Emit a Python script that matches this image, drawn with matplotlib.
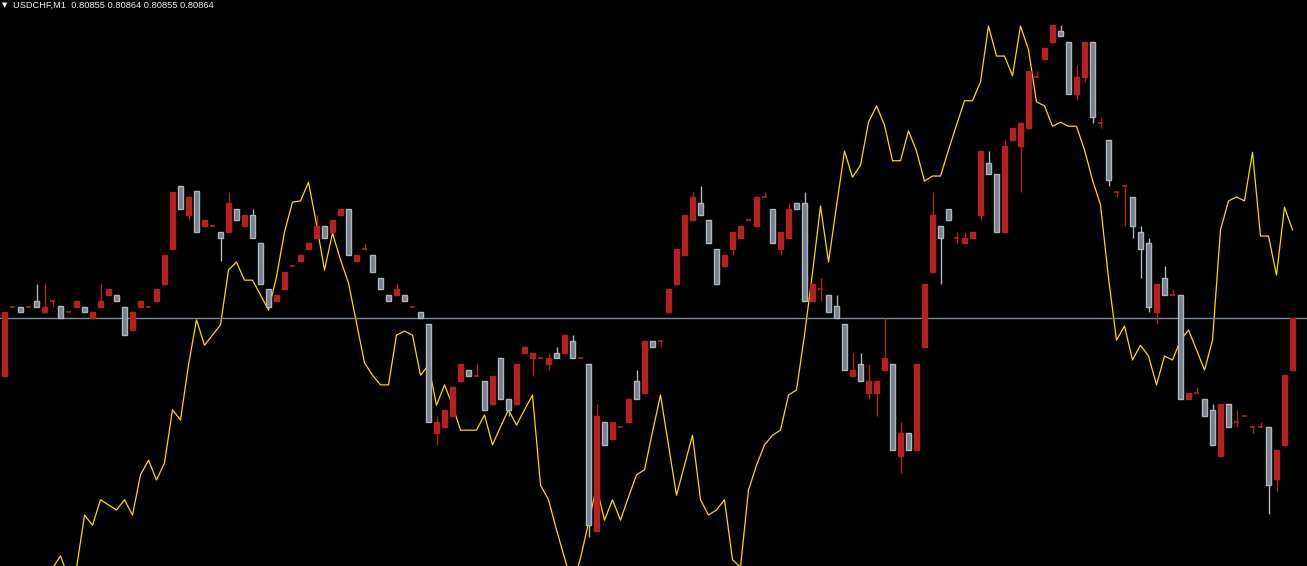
import numpy as np
import matplotlib
matplotlib.use("Agg")
import matplotlib.pyplot as plt

symbol = "USDCHF,M1"
last_ohlc = ["0.80855", "0.80864", "0.80855", "0.80864"]
bid = 0.80864

opens = [0.80854,0.80866,0.80866,0.80866,0.80867,0.80865,0.80867,0.80866,0.80865,0.80866,
0.80866,0.80864,0.80866,0.80868,0.80868,0.80866,0.80862,0.80866,0.80866,0.80867,
0.80870,0.80876,0.80887,0.80882,0.80886,0.80880,0.80880,0.80879,0.80879,0.80883,
0.80880,0.80882,0.80877,0.80869,0.80867,0.80869,0.80873,0.80874,0.80876,0.80878,
0.80880,0.80879,0.80882,0.80883,0.80874,0.80876,0.80875,0.80871,0.80868,0.80868,
0.80868,0.80866,0.80865,0.80863,0.80844,0.80845,0.80847,0.80853,0.80855,0.80854,
0.80853,0.80849,0.80857,0.80850,0.80849,0.80858,0.80857,0.80857,0.80856,0.80858,
0.80858,0.80860,0.80857,0.80856,0.80827,0.80846,0.80843,0.80845,0.80846,0.80853,
0.80851,0.80860,0.80860,0.80865,0.80870,0.80875,0.80881,0.80884,0.80881,0.80876,
0.80873,0.80876,0.80878,0.80881,0.80880,0.80885,0.80883,0.80876,0.80878,0.80884,
0.80884,0.80867,0.80869,0.80868,0.80866,0.80863,0.80854,0.80856,0.80851,0.80851,
0.80855,0.80856,0.80840,0.80844,0.80841,0.80859,0.80872,0.80880,0.80883,0.80878,
0.80877,0.80878,0.80882,0.80891,0.80889,0.80879,0.80895,0.80894,0.80897,0.80906,
0.80909,0.80912,0.80914,0.80912,0.80903,0.80906,0.80912,0.80898,0.80895,0.80886,
0.80887,0.80885,0.80879,0.80877,0.80865,0.80871,0.80868,0.80868,0.80850,0.80851,
0.80850,0.80848,0.80840,0.80849,0.80846,0.80847,0.80845,0.80845,0.80845,0.80836,
0.80842,0.80855]

highs = [0.80865,0.80866,0.80866,0.80866,0.80870,0.80870,0.80867,0.80866,0.80865,0.80867,
0.80866,0.80865,0.80870,0.80869,0.80868,0.80866,0.80865,0.80867,0.80866,0.80869,
0.80875,0.80886,0.80887,0.80885,0.80886,0.80881,0.80880,0.80879,0.80886,0.80883,
0.80882,0.80883,0.80877,0.80869,0.80868,0.80872,0.80873,0.80875,0.80877,0.80882,
0.80880,0.80881,0.80883,0.80883,0.80875,0.80877,0.80875,0.80871,0.80868,0.80870,
0.80868,0.80866,0.80865,0.80863,0.80847,0.80848,0.80852,0.80856,0.80855,0.80856,
0.80853,0.80854,0.80857,0.80850,0.80856,0.80859,0.80858,0.80857,0.80858,0.80859,
0.80861,0.80861,0.80857,0.80856,0.80849,0.80846,0.80846,0.80845,0.80850,0.80855,
0.80860,0.80860,0.80860,0.80869,0.80876,0.80882,0.80886,0.80887,0.80881,0.80876,
0.80875,0.80879,0.80880,0.80881,0.80885,0.80886,0.80883,0.80879,0.80884,0.80884,
0.80886,0.80870,0.80871,0.80868,0.80868,0.80863,0.80858,0.80858,0.80856,0.80853,
0.80864,0.80856,0.80846,0.80844,0.80856,0.80870,0.80886,0.80880,0.80883,0.80879,
0.80879,0.80879,0.80893,0.80893,0.80889,0.80895,0.80897,0.80898,0.80907,0.80907,
0.80911,0.80915,0.80915,0.80912,0.80908,0.80912,0.80912,0.80899,0.80895,0.80886,
0.80887,0.80885,0.80880,0.80878,0.80870,0.80873,0.80869,0.80868,0.80851,0.80852,
0.80850,0.80849,0.80849,0.80849,0.80848,0.80847,0.80845,0.80846,0.80845,0.80841,
0.80854,0.80864]

lows = [0.80854,0.80866,0.80865,0.80866,0.80866,0.80865,0.80866,0.80864,0.80865,0.80866,
0.80865,0.80864,0.80866,0.80868,0.80867,0.80861,0.80862,0.80866,0.80866,0.80867,
0.80870,0.80876,0.80883,0.80881,0.80879,0.80880,0.80880,0.80874,0.80879,0.80881,
0.80880,0.80878,0.80870,0.80866,0.80867,0.80869,0.80873,0.80874,0.80876,0.80878,
0.80878,0.80879,0.80882,0.80875,0.80874,0.80876,0.80872,0.80869,0.80867,0.80868,
0.80867,0.80866,0.80864,0.80846,0.80842,0.80845,0.80847,0.80853,0.80854,0.80854,
0.80848,0.80849,0.80850,0.80847,0.80849,0.80858,0.80854,0.80857,0.80855,0.80857,
0.80858,0.80857,0.80857,0.80826,0.80827,0.80842,0.80843,0.80845,0.80846,0.80850,
0.80851,0.80859,0.80859,0.80865,0.80870,0.80875,0.80881,0.80882,0.80877,0.80870,
0.80873,0.80875,0.80878,0.80881,0.80880,0.80885,0.80877,0.80875,0.80878,0.80883,
0.80867,0.80867,0.80867,0.80865,0.80864,0.80855,0.80854,0.80853,0.80850,0.80847,
0.80855,0.80841,0.80837,0.80841,0.80841,0.80859,0.80872,0.80870,0.80881,0.80877,
0.80877,0.80878,0.80881,0.80889,0.80879,0.80879,0.80895,0.80886,0.80897,0.80906,
0.80909,0.80912,0.80913,0.80903,0.80902,0.80905,0.80898,0.80897,0.80887,0.80885,
0.80880,0.80878,0.80871,0.80865,0.80863,0.80868,0.80868,0.80850,0.80850,0.80851,
0.80847,0.80842,0.80840,0.80845,0.80845,0.80847,0.80844,0.80845,0.80830,0.80834,
0.80842,0.80855]

closes = [0.80865,0.80866,0.80865,0.80866,0.80866,0.80866,0.80867,0.80864,0.80865,0.80867,
0.80865,0.80865,0.80867,0.80869,0.80867,0.80861,0.80865,0.80867,0.80866,0.80869,
0.80875,0.80886,0.80883,0.80885,0.80879,0.80881,0.80880,0.80878,0.80884,0.80881,
0.80882,0.80878,0.80870,0.80866,0.80868,0.80872,0.80873,0.80875,0.80877,0.80880,
0.80878,0.80881,0.80883,0.80875,0.80875,0.80876,0.80872,0.80869,0.80867,0.80869,
0.80867,0.80866,0.80864,0.80846,0.80846,0.80848,0.80852,0.80856,0.80854,0.80854,
0.80848,0.80854,0.80850,0.80848,0.80856,0.80859,0.80858,0.80857,0.80857,0.80857,
0.80861,0.80857,0.80857,0.80828,0.80847,0.80842,0.80846,0.80845,0.80850,0.80850,
0.80860,0.80859,0.80860,0.80869,0.80876,0.80882,0.80885,0.80882,0.80877,0.80870,
0.80875,0.80879,0.80880,0.80881,0.80885,0.80885,0.80877,0.80879,0.80883,0.80883,
0.80867,0.80870,0.80869,0.80865,0.80864,0.80855,0.80855,0.80853,0.80853,0.80853,
0.80857,0.80841,0.80844,0.80841,0.80856,0.80870,0.80882,0.80878,0.80881,0.80878,
0.80878,0.80879,0.80893,0.80889,0.80879,0.80894,0.80897,0.80898,0.80907,0.80906,
0.80911,0.80915,0.80913,0.80903,0.80906,0.80912,0.80899,0.80898,0.80888,0.80886,
0.80887,0.80880,0.80876,0.80866,0.80870,0.80868,0.80868,0.80850,0.80851,0.80851,
0.80847,0.80842,0.80849,0.80845,0.80846,0.80847,0.80845,0.80845,0.80835,0.80841,
0.80854,0.80864]

nan = float("nan")
indicator = [nan,nan,nan,nan,nan,nan,-0.4,1.8,-2.1,-0.4,
9.0,7.2,11.7,10.8,9.9,11.7,9.0,16.1,18.7,15.2,
18.2,27.6,25.8,35.5,43.5,39.0,40.8,42.6,52.3,53.7,
50.5,50.5,47.9,45.2,51.1,59.0,64.3,64.5,67.8,60.4,
52.3,58.8,54.1,50.0,42.9,35.9,33.7,32.0,32.0,40.8,
41.5,40.8,33.7,35.5,28.4,32.0,28.4,24.0,24.0,24.0,
26.7,21.4,24.6,27.6,24.9,27.6,30.2,14.3,11.7,6.4,
1.4,-3.4,1.4,7.6,14.0,8.1,11.7,8.1,12.2,16.1,
17.0,23.7,30.2,21.4,12.5,17.8,23.1,11.7,9.0,9.9,
11.7,1.1,-0.2,13.4,17.8,21.4,23.1,24.0,30.2,31.1,
40.8,51.8,63.6,53.7,63.6,73.3,68.7,70.8,78.4,81.3,
77.9,71.6,71.6,76.9,73.3,68.0,68.9,68.9,73.5,77.9,
82.2,82.2,85.5,95.4,90.1,90.1,86.6,95.4,91.2,82.0,
81.3,77.7,78.4,77.7,77.7,73.5,68.2,63.8,50.9,39.9,
42.4,36.4,39.0,37.1,32.0,37.1,36.4,39.9,41.7,38.2,
34.6,39.9,59.4,64.5,65.2,64.5,73.1,58.3,58.3,51.4,
63.4,59.4]

# ---- styling ----
BG = "#000000"
BULL = "#B22222"
BEAR_FACE = "#77818E"
BEAR_EDGE = "#AEB4BA"
LINE_COL = "#FFD700"
BID_COL = "#7A8899"

W, H, DPI = 1307, 566, 100
fig = plt.figure(figsize=(W / DPI, H / DPI), dpi=DPI, facecolor=BG)
ax = fig.add_axes([0, 0, 1, 1])

o = np.array(opens); h = np.array(highs); l = np.array(lows); c = np.array(closes)
x = np.arange(len(o))

bull = c > o
bear = c < o
doji = c == o

# wicks
ax.vlines(x[~bear], l[~bear], h[~bear], color=BULL, lw=1.0, zorder=2)
ax.vlines(x[bear], l[bear], h[bear], color=BEAR_EDGE, lw=1.0, zorder=2)

bw = 0.52
ax.bar(x[bull], (c - o)[bull], bottom=o[bull], width=bw, color=BULL,
       edgecolor=BULL, linewidth=1.0, zorder=3)
ax.bar(x[bear], (o - c)[bear], bottom=c[bear], width=bw, color=BEAR_FACE,
       edgecolor=BEAR_EDGE, linewidth=1.0, zorder=3)
ax.hlines(o[doji], x[doji] - 0.32, x[doji] + 0.32, color=BULL, lw=1.2, zorder=3)

# bid line
ax.axhline(bid, color=BID_COL, lw=1.0, zorder=1)

# layout: 8 px per bar, first bar centre at 4.5 px; ~5.75 px per point
px_per_bar = 8.0
x0 = -4.5 / px_per_bar
ax.set_xlim(x0, x0 + W / px_per_bar)
pt = 1e-5
px_per_pt = 5.75
bid_px = 318
ax.set_ylim(bid - (H - bid_px) / px_per_pt * pt, bid + bid_px / px_per_pt * pt)
ax.axis("off")

# indicator overlay, drawn behind the candles
ax2 = ax.twinx()
ax2.set_position([0, 0, 1, 1])
ax2.plot(x, indicator, color=LINE_COL, lw=0.9, zorder=4)
ax2.set_ylim(0, 100)
ax2.set_xlim(ax.get_xlim())
ax2.axis("off")
ax2.set_zorder(1)
ax.set_zorder(2)
ax.patch.set_visible(False)
ax2.patch.set_visible(False)

# header
fig.text(2 / W, 1 - 5.5 / H, "▼", color="#E8EEF4", fontsize=5,
         family="DejaVu Sans", va="center", ha="left")
fig.text(13 / W, 1 - 5.5 / H, symbol + "  " + " ".join(last_ohlc),
         color="#E8EEF4", fontsize=6.7, family="Liberation Sans",
         va="center", ha="left")

fig.savefig("out.png", dpi=DPI, facecolor=BG)
